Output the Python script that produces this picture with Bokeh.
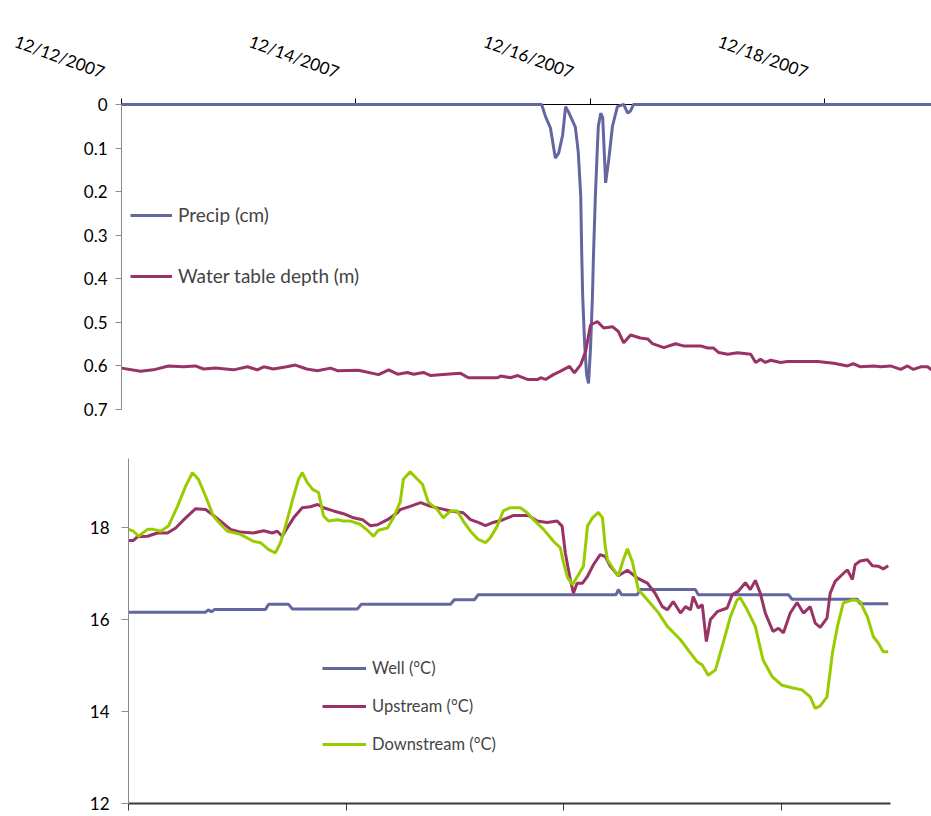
from bokeh.plotting import figure
from bokeh.models import Range1d, FixedTicker, NumeralTickFormatter, Legend, LegendItem, Label
from bokeh.embed import file_html
from bokeh.resources import INLINE

FONT = "Lato"
LABEL_SIZE = "17px"

# time axis: hours since 12/12/2007 00:00
DATE_TICKS = [0, 48, 96, 144]
DATE_LABELS = ["12/12/2007", "12/14/2007", "12/16/2007", "12/18/2007"]
DEPTH_TICKS = [0, 0.1, 0.2, 0.3, 0.4, 0.5, 0.6, 0.7]
TEMP_TICKS = [12, 14, 16, 18]

# precipitation (cm), plotted downward from the top
PRECIP_HOURS = [0.0, 86.0, 86.8, 87.8, 88.8, 89.5, 90.3, 90.9, 91.5, 92.9,
                93.5, 94.0, 94.2, 94.4, 94.8, 95.2, 95.6, 96.0, 96.4, 96.6,
                97.0, 97.4, 97.6, 98.1, 98.5, 99.1, 99.7, 100.5, 101.5, 102.8,
                103.6, 104.2, 104.8, 165.8]
PRECIP_CM = [0, 0, 0.028, 0.054, 0.123, 0.111, 0.070, 0.005, 0.017, 0.052,
             0.11, 0.21, 0.34, 0.44, 0.55, 0.62, 0.64, 0.56, 0.44, 0.35,
             0.21, 0.10, 0.05, 0.02, 0.03, 0.18, 0.13, 0.05, 0.005, 0,
             0.02, 0.015, 0, 0]

# water table depth (m)
WT_HOURS = [0.0, 3.9, 6.5, 9.6, 12.7, 15.1, 16.8, 19.2, 22.9, 25.8,
            27.8, 29.1, 31.1, 33.8, 35.6, 37.9, 40.1, 42.8, 44.2, 48.5,
            52.6, 54.7, 56.5, 58.5, 59.8, 61.8, 63.3, 66.5, 69.4, 71.0,
            77.0, 77.6, 79.6, 81.1, 83.1, 85.2, 85.8, 86.8, 88.4, 89.9,
            91.7, 92.7, 94.0, 95.0, 96.0, 97.4, 98.7, 100.5, 101.7, 102.8,
            104.2, 106.2, 107.7, 108.7, 111.0, 113.4, 115.0, 118.5, 120.0, 121.2,
            122.2, 124.1, 126.1, 128.8, 129.8, 130.8, 131.8, 132.9, 134.9, 136.3,
            142.5, 145.8, 148.6, 149.8, 151.3, 153.9, 155.4, 157.4, 159.5, 160.9,
            162.1, 163.6, 165.0, 165.8]
WT_M = [0.605, 0.612, 0.609, 0.600, 0.602, 0.600, 0.607, 0.605, 0.609, 0.602,
        0.609, 0.602, 0.607, 0.602, 0.598, 0.607, 0.611, 0.605, 0.611, 0.610,
        0.620, 0.609, 0.619, 0.615, 0.619, 0.615, 0.622, 0.619, 0.617, 0.627,
        0.627, 0.623, 0.627, 0.622, 0.631, 0.631, 0.627, 0.631, 0.620, 0.612,
        0.601, 0.616, 0.597, 0.567, 0.506, 0.498, 0.513, 0.510, 0.521, 0.547,
        0.529, 0.536, 0.538, 0.549, 0.558, 0.549, 0.554, 0.554, 0.559, 0.559,
        0.569, 0.573, 0.570, 0.573, 0.592, 0.585, 0.592, 0.587, 0.592, 0.590,
        0.590, 0.594, 0.600, 0.595, 0.602, 0.600, 0.602, 0.600, 0.608, 0.600,
        0.608, 0.602, 0.602, 0.609]

# well temperature (deg C)
WELL_HOURS = [0.0, 17.0, 17.6, 18.3, 19.0, 30.2, 30.9, 35.3, 36.1, 50.5,
              51.3, 71.0, 71.8, 76.3, 77.1, 107.5, 108.0, 108.7, 112.2, 112.8,
              125.0, 125.6, 145.5, 146.3, 160.7, 161.3, 167.5]
WELL_C = [16.16, 16.16, 16.21, 16.17, 16.22, 16.22, 16.33, 16.33, 16.23, 16.23,
          16.33, 16.33, 16.43, 16.43, 16.54, 16.54, 16.65, 16.54, 16.54, 16.65,
          16.65, 16.54, 16.54, 16.44, 16.44, 16.34, 16.34]

# upstream temperature (deg C)
UP_HOURS = [0.0, 1.1, 2.0, 4.2, 6.4, 8.6, 10.4, 12.6, 14.8, 17.0,
            18.5, 20.3, 22.5, 24.7, 27.5, 29.8, 31.7, 32.8, 33.9, 35.0,
            36.4, 38.3, 40.1, 41.7, 43.0, 45.2, 47.4, 49.6, 51.6, 53.3,
            54.9, 57.1, 59.3, 59.9, 62.1, 64.4, 66.6, 68.8, 71.0, 73.8,
            75.4, 77.1, 78.7, 80.4, 82.6, 84.8, 88.2, 90.1, 92.3, 94.5,
            95.6, 96.3, 97.4, 98.1, 98.9, 100.1, 101.2, 102.5, 104.0, 105.1,
            106.2, 108.0, 110.0, 112.2, 114.4, 116.1, 117.7, 118.8, 120.1, 121.7,
            122.8, 123.9, 124.5, 125.6, 126.5, 127.4, 128.3, 129.8, 132.0, 133.1,
            134.4, 136.0, 137.1, 138.2, 139.3, 140.4, 142.1, 143.3, 144.4, 145.9,
            147.4, 148.8, 150.3, 151.4, 152.5, 154.0, 154.7, 155.8, 157.6, 158.5,
            159.6, 160.2, 161.3, 162.9, 164.0, 165.3, 166.4, 167.5]
UP_C = [17.72, 17.72, 17.80, 17.81, 17.88, 17.88, 17.99, 18.21, 18.41, 18.39,
        18.28, 18.14, 17.96, 17.90, 17.88, 17.93, 17.88, 17.92, 17.81, 17.99,
        18.21, 18.43, 18.45, 18.50, 18.43, 18.36, 18.30, 18.21, 18.17, 18.04,
        18.06, 18.17, 18.32, 18.39, 18.46, 18.54, 18.46, 18.41, 18.36, 18.32,
        18.17, 18.11, 18.04, 18.11, 18.17, 18.26, 18.26, 18.14, 18.11, 18.14,
        18.03, 17.45, 16.87, 16.57, 16.79, 16.79, 16.94, 17.19, 17.41, 17.37,
        17.16, 16.95, 17.07, 16.90, 16.79, 16.57, 16.28, 16.21, 16.39, 16.14,
        16.28, 16.21, 16.50, 16.25, 16.32, 15.52, 16.00, 16.17, 16.25, 16.54,
        16.61, 16.80, 16.65, 16.85, 16.57, 16.14, 15.74, 15.81, 15.71, 16.14,
        16.37, 16.14, 16.28, 15.92, 15.83, 16.03, 16.57, 16.83, 17.00, 17.08,
        16.87, 17.19, 17.27, 17.30, 17.17, 17.16, 17.10, 17.17]

# downstream temperature (deg C)
DOWN_HOURS = [0.0, 1.1, 2.2, 4.2, 5.5, 7.1, 8.8, 10.8, 12.6, 14.1,
              15.4, 17.0, 18.7, 20.3, 21.8, 24.7, 27.5, 29.1, 30.9, 32.4,
              33.5, 34.2, 35.0, 36.4, 37.5, 38.3, 39.4, 40.6, 41.9, 43.0,
              44.1, 46.1, 47.4, 48.9, 51.1, 52.9, 54.0, 55.1, 57.1, 58.4,
              59.9, 60.6, 62.1, 63.7, 64.8, 66.1, 68.1, 69.4, 71.0, 72.5,
              73.8, 75.4, 77.1, 78.7, 79.8, 81.3, 82.6, 84.2, 86.4, 87.9,
              89.3, 91.5, 93.7, 95.2, 95.9, 96.8, 97.9, 99.0, 100.3, 101.2,
              102.3, 103.6, 104.5, 105.1, 105.6, 106.7, 108.0, 109.1, 110.0, 111.1,
              112.4, 115.0, 116.8, 118.8, 121.7, 123.9, 125.4, 126.5, 127.8, 129.4,
              131.1, 132.7, 134.2, 134.9, 136.4, 138.2, 139.9, 141.9, 144.1, 146.5,
              148.5, 150.3, 151.4, 152.5, 154.0, 155.2, 156.3, 157.6, 159.8, 161.3,
              162.9, 164.2, 165.3, 166.4, 167.5]
DOWN_C = [17.96, 17.92, 17.81, 17.96, 17.96, 17.92, 18.03, 18.46, 18.90, 19.19,
          19.05, 18.68, 18.25, 18.07, 17.92, 17.85, 17.70, 17.67, 17.52, 17.45,
          17.67, 17.89, 18.17, 18.68, 19.05, 19.19, 18.98, 18.83, 18.76, 18.25,
          18.14, 18.17, 18.14, 18.14, 18.07, 17.92, 17.81, 17.94, 17.99, 18.21,
          18.55, 19.05, 19.21, 19.05, 18.94, 18.55, 18.39, 18.21, 18.36, 18.36,
          18.14, 17.92, 17.74, 17.67, 17.78, 18.03, 18.36, 18.43, 18.43, 18.32,
          18.17, 17.96, 17.70, 17.56, 17.24, 16.91, 16.76, 16.94, 17.16, 18.03,
          18.21, 18.33, 18.21, 17.59, 17.30, 17.13, 16.95, 17.30, 17.54, 17.25,
          16.65, 16.36, 16.15, 15.85, 15.56, 15.27, 15.08, 15.01, 14.79, 14.90,
          15.49, 16.06, 16.43, 16.47, 16.21, 15.85, 15.12, 14.76, 14.57, 14.51,
          14.47, 14.32, 14.07, 14.12, 14.32, 15.27, 15.85, 16.36, 16.43, 16.39,
          16.06, 15.63, 15.49, 15.30, 15.30]

BLUE = "#6466a0"
PLUM = "#993366"
LIME = "#99cc00"
GREY_AXIS = "#8c8c8c"
LW = 3

# upper panel geometry: the frame fills the whole canvas; the depth axis
# (0..0.7) starts 121 px from the left, 104 px from the top and ends 21 px
# above the bottom, leaving room around it for tick and date labels
TOP_HOURS_SHOWN = 165.8
TOP_PX_PER_HOUR = 810.0 / TOP_HOURS_SHOWN
TOP_LEFT_PX = 121
TOP_PX_PER_UNIT = 436.0
TOP_HEADROOM_PX = 104
TOP_FOOT_PX = 21
DEPTH_MAX = 0.7


def style_axis(axis, line_color, line_width, tick_out, standoff):
    axis.axis_line_color = line_color
    axis.axis_line_width = line_width
    axis.major_tick_line_color = line_color
    axis.major_tick_out = tick_out
    axis.major_tick_in = 0
    axis.minor_tick_line_color = None
    axis.major_label_standoff = standoff
    axis.major_label_text_font = FONT
    axis.major_label_text_font_size = LABEL_SIZE
    axis.major_label_text_color = "black"


def style_legend(legend, spacing, size):
    legend.background_fill_alpha = 0
    legend.border_line_color = None
    legend.padding = 0
    legend.margin = 0
    legend.spacing = spacing
    legend.label_text_font = FONT
    legend.label_text_font_size = size
    legend.label_standoff = 6
    legend.label_height = 20
    legend.glyph_height = 20


# ---- upper panel: precipitation and water table depth (inverted axis) ----
top = figure(width=931, height=430,
             x_range=Range1d(-TOP_LEFT_PX / TOP_PX_PER_HOUR, TOP_HOURS_SHOWN),
             y_range=Range1d(DEPTH_MAX + TOP_FOOT_PX / TOP_PX_PER_UNIT,
                             -TOP_HEADROOM_PX / TOP_PX_PER_UNIT),
             output_backend="svg", toolbar_location=None,
             min_border_left=0, min_border_right=0, min_border_top=0,
             min_border_bottom=0, outline_line_color=None)
top.grid.visible = False

r_precip = top.line(PRECIP_HOURS, PRECIP_CM, line_color=BLUE, line_width=LW)
r_wt = top.line(WT_HOURS, WT_M, line_color=PLUM, line_width=LW)

# time axis drawn along depth 0, tick marks pointing up, beneath the lines
xax = top.xaxis[0]
xax.fixed_location = 0
xax.bounds = (0, TOP_HOURS_SHOWN)
xax.ticker = FixedTicker(ticks=DATE_TICKS, minor_ticks=[])
xax.major_label_overrides = {t: "" for t in DATE_TICKS}
style_axis(xax, "black", 1, 0, 0)
xax.major_tick_in = 6
xax.major_label_text_font_size = "0px"
xax.level = "underlay"

for tick, text in zip(DATE_TICKS, DATE_LABELS):
    top.add_layout(Label(x=tick, y=0, x_offset=-21, y_offset=22, text=text,
                         angle=-0.35, angle_units="rad", text_align="right",
                         text_baseline="bottom", text_font=FONT,
                         text_font_size=LABEL_SIZE, text_color="black"))

# depth axis drawn at time 0
yax = top.yaxis[0]
yax.fixed_location = 0
yax.bounds = (0, DEPTH_MAX)
yax.ticker = FixedTicker(ticks=DEPTH_TICKS, minor_ticks=[])
yax.formatter = NumeralTickFormatter(format="0.[0]")
style_axis(yax, GREY_AXIS, 1, 6, 8)

top_legend = Legend(items=[LegendItem(label="Precip (cm)", renderers=[r_precip]),
                           LegendItem(label="Water table depth (m)", renderers=[r_wt])],
                    location=(TOP_LEFT_PX + 9, TOP_FOOT_PX + 122), glyph_width=42)
style_legend(top_legend, 38, "19px")
top.add_layout(top_legend)

# ---- lower panel: temperatures ----
bottom = figure(width=931, height=386,
                x_range=Range1d(0, 168), y_range=Range1d(12, 19.5),
                output_backend="svg", toolbar_location=None,
                min_border_left=128, min_border_right=41, min_border_top=28,
                min_border_bottom=13, outline_line_color=None)
bottom.grid.visible = False

r_well = bottom.line(WELL_HOURS, WELL_C, line_color=BLUE, line_width=LW)
r_up = bottom.line(UP_HOURS, UP_C, line_color=PLUM, line_width=LW)
r_down = bottom.line(DOWN_HOURS, DOWN_C, line_color=LIME, line_width=LW)

bottom.xaxis.ticker = FixedTicker(ticks=DATE_TICKS, minor_ticks=[])
bottom.xaxis.major_label_overrides = {t: "" for t in DATE_TICKS}
style_axis(bottom.xaxis[0], "#3a3a3a", 2, 7, 0)
bottom.xaxis.major_label_text_font_size = "0px"

bottom.yaxis.ticker = FixedTicker(ticks=TEMP_TICKS, minor_ticks=[])
style_axis(bottom.yaxis[0], GREY_AXIS, 1, 7, 12)

bottom_legend = Legend(items=[LegendItem(label="Well (°C)", renderers=[r_well]),
                              LegendItem(label="Upstream (°C)", renderers=[r_up]),
                              LegendItem(label="Downstream (°C)", renderers=[r_down])],
                       location=(194, 49), glyph_width=44)
style_legend(bottom_legend, 18, "16.5px")
bottom.add_layout(bottom_legend)

# the two panels are separate roots so each keeps its own frame position
open("out.html", "w").write(file_html([top, bottom], INLINE))
